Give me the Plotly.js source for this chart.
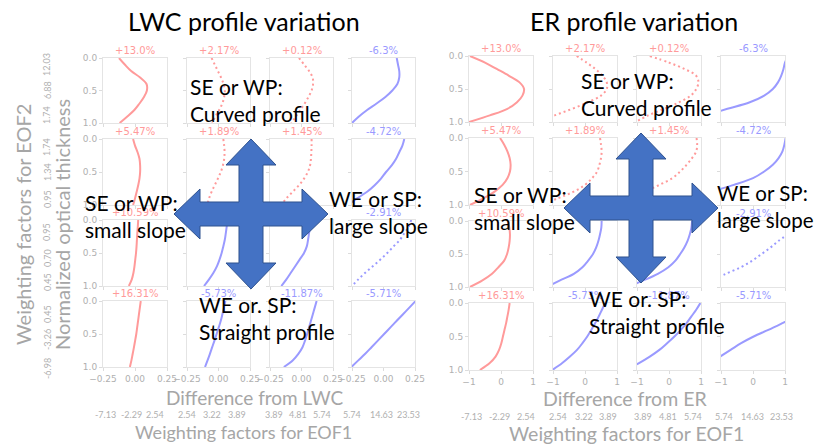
<!DOCTYPE html>
<html><head><meta charset="utf-8">
<script src="https://cdn.plot.ly/plotly-3.0.1.min.js"></script>
<style>html,body{margin:0;padding:0;background:#fff;}#chart{width:815px;height:446px;}</style>
</head><body><div id="chart"></div>
<script>
// normalized optical thickness (y) levels
const depth = [0,0.1,0.2,0.3,0.4,0.5,0.6,0.7,0.8,0.9,1.0];

// LWC difference profiles (rows = EOF2 bins, 4 columns = EOF1 bins)
const lwcRow1 = [
  [-0.125,-0.08,-0.03,0.04,0.09,0.093,0.07,0.035,-0.005,-0.06,-0.12],
  [-0.055,-0.03,-0.005,0.02,0.04,0.05,0.045,0.03,0.005,-0.025,-0.05],
  [-0.02,0.02,0.06,0.088,0.092,0.08,0.055,0.025,-0.01,-0.045,-0.08],
  [0.105,0.115,0.125,0.125,0.11,0.07,0.015,-0.055,-0.13,-0.195,-0.25]];
const lwcRow2 = [
  [-0.015,0.0,0.02,0.035,0.04,0.04,0.035,0.025,0.013,0.0,-0.015],
  [0.038,0.045,0.048,0.045,0.035,0.018,-0.005,-0.03,-0.055,-0.075,-0.09],
  [0.08,0.08,0.078,0.075,0.068,0.05,0.02,-0.02,-0.07,-0.12,-0.16],
  [0.165,0.15,0.125,0.1,0.065,0.02,-0.02,-0.07,-0.13,-0.21,-0.28]];
const lwcRow3 = [
  [0.025,0.022,0.018,0.015,0.012,0.008,0.002,-0.004,-0.012,-0.025,-0.048],
  [0.07,0.065,0.058,0.05,0.038,0.025,0.008,-0.012,-0.04,-0.075,-0.115],
  [0.075,0.068,0.06,0.052,0.042,0.02,-0.015,-0.05,-0.085,-0.12,-0.16],
  [0.22,0.2,0.165,0.13,0.08,0.03,-0.025,-0.085,-0.145,-0.2,-0.25]];
const lwcRow4 = [
  [0.045,0.038,0.031,0.024,0.017,0.01,0.001,-0.008,-0.018,-0.028,-0.04],
  [0.055,0.043,0.031,0.018,0.002,-0.015,-0.032,-0.05,-0.068,-0.087,-0.107],
  [0.12,0.105,0.09,0.075,0.06,0.045,0.028,0.008,-0.025,-0.07,-0.14],
  [0.255,0.205,0.155,0.105,0.055,0.005,-0.045,-0.095,-0.145,-0.2,-0.255]];

// ER difference profiles
const erRow1 = [
  [-0.97,-0.5,-0.12,0.25,0.58,0.72,0.67,0.5,0.2,-0.35,-1.0],
  [-0.26,0.05,0.33,0.55,0.68,0.68,0.5,0.1,-0.4,-0.95,-1.5],
  [-0.6,0.0,0.5,0.85,0.92,0.85,0.68,0.32,-0.15,-0.65,-1.05],
  [1.1,1.0,0.95,0.88,0.78,0.62,0.35,-0.1,-0.8,-1.5,null]];
const erRow2 = [
  [-0.03,0.1,0.2,0.27,0.3,0.28,0.2,0.05,-0.2,-0.55,-0.97],
  [0.47,0.5,0.52,0.5,0.45,0.38,0.22,0.0,-0.35,-0.85,-1.4],
  [0.86,0.88,0.85,0.72,0.55,0.35,0.1,-0.3,-0.75,-1.2,null],
  [1.02,0.98,0.92,0.8,0.62,0.35,0.0,-0.6,-1.3,null,null]];
const erRow3 = [
  [0.22,0.26,0.28,0.27,0.24,0.19,0.1,-0.08,-0.28,-0.58,-0.97],
  [0.52,0.51,0.47,0.42,0.35,0.25,0.1,-0.08,-0.35,-0.78,-1.2],
  [0.72,0.7,0.65,0.58,0.48,0.35,0.2,-0.02,-0.35,-0.8,-1.3],
  [null,null,1.1,0.8,0.55,0.27,-0.02,-0.38,-0.85,-1.3,null]];
const erRow4 = [
  [0.27,0.24,0.2,0.16,0.11,0.06,0.01,-0.06,-0.17,-0.36,-0.66],
  [0.63,0.53,0.43,0.32,0.2,0.07,-0.08,-0.25,-0.47,-0.72,-1.02],
  [0.98,0.85,0.7,0.55,0.37,0.17,-0.06,-0.3,-0.6,-0.95,-1.35],
  [null,null,1.35,0.92,0.48,0.02,-0.37,-0.7,-1.03,null,null]];

// panel labels (same for both grids)
const pctRow1 = ["+13.0%","+2.17%","+0.12%","-6.3%"];
const pctRow2 = ["+5.47%","+1.89%","+1.45%","-4.72%"];
const pctRow3 = ["+10.59%","","","-2.91%"];
const pctRow4 = ["+16.31%","-5.73%","-11.87%","-5.71%"];

// weighting factor bin labels
const eof2Labels = [["12.03","6.88","1.74"],["1.74","1.34","0.95"],["0.95","0.70","0.45"],["0.45","-3.26","-6.98"]];
const eof1Labels = [["-7.13","-2.29","2.54"],["2.54","3.22","3.89"],["3.89","4.81","5.74"],["5.74","14.63","23.53"]];

const lwcTicks = [-0.25,0,0.25];
const erTicks = [-1,0,1];
const depthTicks = [0,0.5,1];

// ---------- styling / layout ----------
const W = 815, H = 446;
const px = x => x / W;
const py = y => 1 - y / H;
const RED = '#ff9a9a', BLUE = '#9a9aff';
const cellColor = [[RED,RED,RED,BLUE],[RED,RED,RED,BLUE],[RED,BLUE,BLUE,BLUE],[RED,BLUE,BLUE,BLUE]];
const cellDash = [['solid','dot','dot','solid'],['solid','dot','dot','solid'],['solid','solid','solid','dot'],['solid','solid','solid','solid']];
const pctRows = [pctRow1,pctRow2,pctRow3,pctRow4];

const grids = [
  {rows:[lwcRow1,lwcRow2,lwcRow3,lwcRow4], ticks:lwcTicks, fmt:'.2f', range:[-0.25,0.25],
   cols:[[103,167],[187,250],[270,333],[352,415]], rowsPx:[[58,123],[139,205],[220,286],[301,367]]},
  {rows:[erRow1,erRow2,erRow3,erRow4], ticks:erTicks, fmt:'d', range:[-1,1],
   cols:[[469,533],[553,617],[637,701],[721,785]], rowsPx:[[56,122],[138,205],[221,287],[303,370]]}
];

const traces = [];
const layout = {
  width: W, height: H, margin:{l:0,r:0,t:0,b:0}, paper_bgcolor:'#fff', plot_bgcolor:'#fff',
  showlegend:false, annotations:[], shapes:[]
};
const tickFont = {family:'DejaVu Sans, sans-serif', size:9, color:'#b0b0b0'};

grids.forEach((g, gi) => {
  for (let r = 0; r < 4; r++) {
    for (let c = 0; c < 4; c++) {
      const idx = gi*16 + r*4 + c + 1;
      const xk = idx === 1 ? 'xaxis' : 'xaxis' + idx;
      const yk = idx === 1 ? 'yaxis' : 'yaxis' + idx;
      const xr = idx === 1 ? 'x' : 'x' + idx;
      const yr = idx === 1 ? 'y' : 'y' + idx;
      traces.push({
        x: g.rows[r][c], y: depth, xaxis: xr, yaxis: yr, mode:'lines', hoverinfo:'skip',
        line:{color: cellColor[r][c], width:2, dash: cellDash[r][c] === 'dot' ? '2px,3px' : 'solid', shape:'spline', smoothing:1}
      });
      const common = {showgrid:false, zeroline:false, showline:true, mirror:true, linecolor:'#e4e4e4', linewidth:1,
        ticks:'outside', ticklen:3, tickcolor:'#dcdcdc', tickfont: tickFont, fixedrange:true};
      layout[xk] = Object.assign({}, common, {
        domain:[px(g.cols[c][0]), px(g.cols[c][1])], range:g.range, tickmode:'array', tickvals:g.ticks,
        tickformat:g.fmt, showticklabels: r === 3, anchor: yr
      });
      layout[yk] = Object.assign({}, common, {
        domain:[py(g.rowsPx[r][1]), py(g.rowsPx[r][0])], range:[1,0], tickmode:'array', tickvals:depthTicks,
        tickformat:'.1f', showticklabels: c === 0, anchor: xr
      });
      const lbl = pctRows[r][c];
      if (lbl) {
        layout.annotations.push({
          xref: xr + ' domain', yref: yr + ' domain', x:0.5, y:1, xanchor:'center', yanchor:'bottom',
          text: lbl, showarrow:false, font:{family:'DejaVu Sans, sans-serif', size:10, color: cellColor[r][c]}
        });
      }
    }
  }
});

const A = layout.annotations;
const grey = '#a6a6a6';
function txt(x, y, text, size, color, opts) {
  A.push(Object.assign({xref:'paper', yref:'paper', x:px(x), y:py(y), text:text, showarrow:false,
    xanchor:'center', yanchor:'middle', font:{family:'Lato, sans-serif', size:size, color:color}}, opts || {}));
}
// titles
txt(244, 21, 'LWC profile variation', 25, '#000');
txt(634, 21, 'ER profile variation', 25, '#000');
// left side labels
txt(23, 225, 'Weighting factors for EOF2', 20, grey, {textangle:-90});
txt(62, 225, 'Normalized optical thickness', 20, grey, {textangle:-90});
const eof2Y = [[65,90,115],[147,172,199],[232,258,282],[314,340,369]];
eof2Labels.forEach((row, r) => row.forEach((t, k) => txt(47, eof2Y[r][k], t, 9, '#b0b0b0', {textangle:-90})));
// bottom labels
txt(255, 397, 'Difference from LWC', 19, grey);
txt(243, 432, 'Weighting factors for EOF1', 18, grey);
txt(625, 398, 'Difference from ER', 19.5, grey);
txt(626, 433, 'Weighting factors for EOF1', 19.5, grey);
const eof1XL = [[105,131,155],[187,212,237],[274,298,322],[352,381,408]];
const eof1XR = [[471,499,526],[558,584,608],[643,668,693],[724,752,781]];
eof1Labels.forEach((row, c) => row.forEach((t, k) => {
  txt(eof1XL[c][k], 414, t, 9, '#b0b0b0');
  txt(eof1XR[c][k], 416, t, 9, '#b0b0b0');
}));

// four-way arrows
function arrowPath(cx, cy, H2, V2, hl, hw, sw) {
  const p = [
    [cx, cy-V2],[cx+hw, cy-V2+hl],[cx+sw, cy-V2+hl],[cx+sw, cy-sw],[cx+H2-hl, cy-sw],[cx+H2-hl, cy-hw],
    [cx+H2, cy],[cx+H2-hl, cy+hw],[cx+H2-hl, cy+sw],[cx+sw, cy+sw],[cx+sw, cy+V2-hl],[cx+hw, cy+V2-hl],
    [cx, cy+V2],[cx-hw, cy+V2-hl],[cx-sw, cy+V2-hl],[cx-sw, cy+sw],[cx-H2+hl, cy+sw],[cx-H2+hl, cy+hw],
    [cx-H2, cy],[cx-H2+hl, cy-hw],[cx-H2+hl, cy-sw],[cx-sw, cy-sw],[cx-sw, cy-V2+hl],[cx-hw, cy-V2+hl]
  ];
  return 'M' + p.map(q => px(q[0]).toFixed(5) + ',' + py(q[1]).toFixed(5)).join(' L') + ' Z';
}
[[251,214],[641,208]].forEach(([cx, cy]) => {
  layout.shapes.push({type:'path', xref:'paper', yref:'paper', layer:'above',
    path: arrowPath(cx, cy, 77, 75, 26, 25, 12), fillcolor:'#4472c4', line:{color:'#2f528f', width:1}});
});

// overlay explanatory text
const ov = (x, y, t, s) => txt(x, y, t, s || 21, '#000', {xanchor:'left', align:'left'});
ov(188, 100, 'SE or WP:<br>Curved profile');
ov(83, 216, 'SE or WP:<br>small slope');
ov(327, 212, 'WE or SP:<br>large slope');
ov(197, 318, 'WE or. SP:<br>Straight profile');
ov(579, 94, 'SE or WP:<br>Curved profile');
ov(472, 208, 'SE or WP:<br>small slope');
ov(715, 206, 'WE or SP:<br>large slope', 20.5);
ov(587, 312, 'WE or. SP:<br>Straight profile');

Plotly.newPlot('chart', traces, layout, {staticPlot:true, displayModeBar:false});
</script></body></html>
